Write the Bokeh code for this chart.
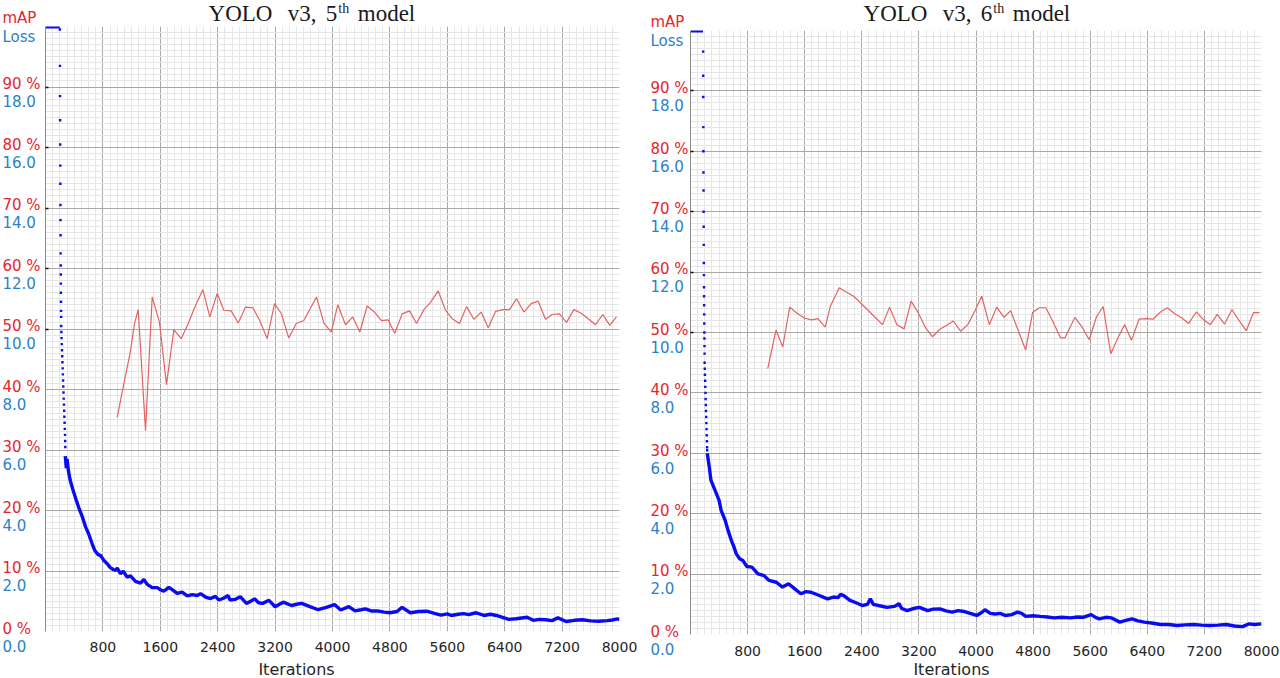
from bokeh.plotting import figure
from bokeh.models import Range1d, FixedTicker
from bokeh.layouts import row, column
from bokeh.core.properties import value
from bokeh.embed import file_html
from bokeh.resources import INLINE

# ---------------- texts / ticks ----------------
X_TICKS = [800, 1600, 2400, 3200, 4000, 4800, 5600, 6400, 7200, 8000]
X_TICK_LABELS = ["800", "1600", "2400", "3200", "4000", "4800", "5600", "6400", "7200", "8000"]
MAP_TICKS = [0, 10, 20, 30, 40, 50, 60, 70, 80, 90]
MAP_TICK_LABELS = ["0 %", "10 %", "20 %", "30 %", "40 %", "50 %", "60 %", "70 %", "80 %", "90 %"]
LOSS_TICKS = [0, 2, 4, 6, 8, 10, 12, 14, 16, 18]
LOSS_TICK_LABELS = ["0.0", "2.0", "4.0", "6.0", "8.0", "10.0", "12.0", "14.0", "16.0", "18.0"]
MARK_TICKS = [50, 60, 70, 80, 90]
TITLE_WORDS = ["YOLO", "v3,"]
MODEL_NUMBERS = ["5", "6"]
TITLE_SUP = "th"
TITLE_TAIL = "model"
X_NAME = "Iterations"
MAP_NAME = "mAP"
LOSS_NAME = "Loss"

# ---------------- 5th model ----------------
m5_map_iter = [999, 1091, 1185, 1240, 1292, 1394, 1487, 1589, 1686, 1789,
               1891, 1989, 2091, 2193, 2290, 2393, 2485, 2588, 2686, 2787,
               2890, 2983, 3090, 3192, 3285, 3391, 3494, 3600, 3777, 3879,
               3982, 4074, 4181, 4283, 4381, 4483, 4576, 4683, 4776, 4868,
               4971, 5073, 5171, 5273, 5366, 5473, 5575, 5668, 5770, 5868,
               5970, 6072, 6170, 6272, 6374, 6467, 6564, 6667, 6769, 6866,
               6969, 7062, 7164, 7262, 7363, 7465, 7564, 7665, 7767, 7865,
               7958]
m5_map = [35.4, 40.9, 46.4, 50.9, 53.2, 33.2, 55.3, 51.1, 40.8, 49.9,
          48.4, 50.9, 53.9, 56.5, 52.0, 55.9, 53.1, 53.0, 51.0, 53.6,
          53.5, 51.5, 48.4, 54.2, 52.6, 48.5, 50.9, 51.4, 55.3, 51.0,
          49.5, 54.0, 50.7, 52.0, 49.5, 53.8, 52.9, 51.4, 51.5, 49.3,
          52.5, 53.0, 50.9, 53.2, 54.4, 56.3, 53.1, 51.7, 50.9, 53.7,
          51.6, 52.8, 50.2, 52.9, 53.2, 53.2, 55.0, 52.8, 54.2, 54.6,
          51.6, 52.4, 52.5, 51.1, 53.2, 52.6, 51.7, 50.7, 52.4, 50.6,
          52.0]
m5_cap_iter = [0, 200]
m5_cap_loss = [20.0, 20.0]
m5_dot_iter = [201, 202, 203, 204, 205, 206, 207, 208, 209, 210,
               211, 212, 213, 214, 215, 216, 217, 218, 219,
               221, 224, 227, 230, 233, 236, 239, 242, 245, 248,
               251, 254, 257, 260, 263, 266, 269, 272, 274, 276]
m5_dot_loss = [19.9, 18.7, 17.7, 16.9, 16.1, 15.4, 14.8, 14.1, 13.6, 13.1,
               12.5, 12.1, 11.8, 11.5, 11.2, 10.9, 10.6, 10.4, 10.1,
               9.9, 9.7, 9.5, 9.3, 9.1, 8.9, 8.7, 8.5, 8.3, 8.1,
               7.9, 7.7, 7.5, 7.3, 7.1, 6.9, 6.7, 6.5, 6.3, 6.1]
m5_loss_iter = [276, 290, 300, 320, 344, 380, 429, 470, 515, 560,
                601, 650, 687, 730, 772, 813, 858, 900, 944, 980,
                1000, 1045, 1083, 1138, 1185, 1254, 1324, 1370, 1417, 1487,
                1556, 1603, 1649, 1719, 1780, 1835, 1905, 1975, 2045, 2114,
                2160, 2230, 2300, 2369, 2416, 2480, 2543, 2572, 2640, 2714,
                2800, 2860, 2914, 2970, 3028, 3114, 3200, 3260, 3314, 3428,
                3500, 3571, 3686, 3800, 3914, 4028, 4114, 4228, 4314, 4400,
                4457, 4540, 4628, 4720, 4799, 4900, 4970, 5084, 5200, 5313,
                5420, 5513, 5600, 5656, 5750, 5827, 5900, 5998, 6113, 6200,
                6284, 6370, 6456, 6560, 6712, 6798, 6880, 6970, 7060, 7141,
                7256, 7370, 7484, 7600, 7713, 7827, 7900, 7969, 8000]
m5_loss = [5.8, 5.4, 5.7, 5.3, 5.0, 4.7, 4.34, 4.05, 3.78, 3.45,
           3.23, 2.9, 2.68, 2.55, 2.5, 2.35, 2.25, 2.12, 2.05, 2.02,
           2.1, 1.91, 1.99, 1.80, 1.84, 1.66, 1.60, 1.72, 1.56, 1.45,
           1.45, 1.38, 1.33, 1.46, 1.36, 1.26, 1.30, 1.18, 1.22, 1.19,
           1.25, 1.14, 1.09, 1.16, 1.04, 1.10, 1.19, 1.04, 1.06, 1.15,
           0.93, 1.00, 1.08, 0.95, 0.93, 1.03, 0.82, 0.90, 0.97, 0.86,
           0.90, 0.93, 0.82, 0.72, 0.80, 0.89, 0.71, 0.82, 0.68, 0.72,
           0.75, 0.68, 0.68, 0.64, 0.62, 0.66, 0.80, 0.62, 0.66, 0.67,
           0.60, 0.54, 0.58, 0.53, 0.57, 0.59, 0.56, 0.62, 0.53, 0.57,
           0.53, 0.47, 0.40, 0.42, 0.47, 0.37, 0.40, 0.39, 0.36, 0.45,
           0.33, 0.37, 0.39, 0.35, 0.34, 0.36, 0.38, 0.42, 0.40]

# ---------------- 6th model ----------------
m6_map_iter = [1082, 1198, 1292, 1390, 1492, 1594, 1692, 1786, 1888, 1958,
               2084, 2182, 2285, 2392, 2495, 2597, 2691, 2789, 2891, 2993,
               3091, 3194, 3287, 3390, 3488, 3590, 3684, 3786, 3884, 3986,
               4080, 4187, 4290, 4392, 4485, 4593, 4695, 4793, 4887, 4979,
               5082, 5185, 5245, 5385, 5492, 5586, 5688, 5782, 5888, 5992,
               6084, 6178, 6285, 6387, 6481, 6584, 6681, 6784, 6886, 6979,
               7087, 7180, 7283, 7380, 7483, 7586, 7684, 7786, 7888, 7972]
m6_map = [44.0, 50.4, 47.6, 54.2, 53.2, 52.4, 52.1, 52.3, 50.9, 54.3,
          57.4, 56.7, 56.0, 54.8, 53.6, 52.4, 51.3, 54.2, 51.3, 50.6,
          55.2, 53.2, 50.9, 49.3, 50.5, 51.2, 51.9, 50.2, 51.3, 53.6,
          56.0, 51.3, 54.2, 52.5, 53.6, 50.3, 47.1, 53.3, 54.1, 54.1,
          51.7, 49.1, 49.1, 52.5, 50.8, 48.8, 52.6, 54.3, 46.5, 49.2,
          51.3, 48.7, 52.2, 52.3, 52.2, 53.4, 54.1, 53.1, 52.4, 51.5,
          53.4, 52.2, 51.3, 53.0, 51.4, 53.8, 52.0, 50.3, 53.3, 53.3]
m6_cap_iter = [0, 176]
m6_cap_loss = [20.0, 20.0]
m6_dot_iter = [177, 178, 179, 180, 181, 182, 183, 184, 185, 186, 187,
               188, 189, 190, 191, 192, 193, 194, 195, 196, 197, 198,
               200, 202, 205, 207, 210, 212, 215, 217, 220, 222, 225,
               227, 230, 232, 234]
m6_dot_loss = [19.3, 18.5, 17.8, 16.8, 16.0, 15.3, 14.7, 14.0, 13.5, 12.9, 12.3,
               11.9, 11.5, 11.2, 10.9, 10.6, 10.3, 10.0, 9.8, 9.55, 9.3, 9.0,
               8.8, 8.6, 8.4, 8.2, 8.0, 7.8, 7.6, 7.4, 7.2, 7.0, 6.8,
               6.6, 6.4, 6.2, 6.1]
m6_loss_iter = [235, 260, 287, 344, 401, 429, 487, 527, 573, 601,
                642, 688, 733, 790, 860, 945, 1031, 1100, 1202, 1289,
                1374, 1461, 1546, 1620, 1690, 1805, 1919, 2005, 2070, 2100,
                2148, 2234, 2320, 2406, 2480, 2520, 2560, 2635, 2749, 2860,
                2921, 2960, 3036, 3120, 3208, 3323, 3400, 3495, 3580, 3666,
                3750, 3838, 3920, 4010, 4080, 4125, 4200, 4268, 4340, 4411,
                4500, 4582, 4640, 4697, 4800, 4898, 5000, 5098, 5200, 5327,
                5420, 5499, 5614, 5680, 5728, 5820, 5900, 6015, 6100, 6187,
                6270, 6358, 6460, 6588, 6700, 6817, 6930, 7046, 7160, 7276,
                7390, 7506, 7620, 7735, 7820, 7900, 8000]
m6_loss = [6.0, 5.6, 5.1, 4.77, 4.44, 4.11, 3.77, 3.44, 3.11, 2.95,
           2.67, 2.51, 2.45, 2.25, 2.23, 2.01, 1.95, 1.79, 1.73, 1.57,
           1.68, 1.51, 1.35, 1.42, 1.40, 1.29, 1.18, 1.24, 1.22, 1.33,
           1.29, 1.13, 1.05, 0.96, 1.00, 1.18, 1.00, 0.96, 0.90, 0.93,
           1.02, 0.86, 0.79, 0.86, 0.90, 0.79, 0.84, 0.85, 0.78, 0.74,
           0.79, 0.76, 0.70, 0.63, 0.73, 0.82, 0.70, 0.68, 0.70, 0.63,
           0.66, 0.74, 0.70, 0.60, 0.62, 0.60, 0.58, 0.55, 0.57, 0.55,
           0.58, 0.57, 0.66, 0.56, 0.52, 0.57, 0.55, 0.41, 0.47, 0.52,
           0.45, 0.41, 0.38, 0.33, 0.33, 0.30, 0.32, 0.33, 0.31, 0.30,
           0.31, 0.33, 0.28, 0.26, 0.35, 0.33, 0.35]

# ---------------- styling / layout ----------------
RED = "#e5262d"
BLUE_TXT = "#2a82c8"
LOSS_COLOR = "#0b0bf2"
MAP_COLOR = "#e06464"
MAJOR = "#a8a8a8"
MINOR = "#e6e6e6"
TXT = "#262626"
SANS = "DejaVu Sans"
SERIF = "Liberation Serif"
BOTTOM_H = 19

GEOM = [
    dict(x0=0, lw=45, fw=574, fh=605, top=26, br=29, bb=28, xs=4,
         title_cx=[240, 301.7, 331, 343.3, 386], title_y=13.3, sup_y=17.7, map_y=8.9,
         iter_cx=296, iter_y=9.5),
    dict(x0=648, lw=42, fw=571, fh=604, top=30, br=19, bb=25, xs=5,
         title_cx=[895, 956.7, 986, 998.3, 1041], title_y=17.3, sup_y=21.7, map_y=8.9,
         iter_cx=951, iter_y=9.5),
]


def blank(width, height, x_range, y_range):
    f = figure(frame_width=width, frame_height=height, min_border=0,
               min_border_left=0, min_border_right=0, min_border_top=0, min_border_bottom=0,
               x_range=x_range, y_range=y_range,
               x_axis_type=None, y_axis_type=None, output_backend="svg",
               toolbar_location=None, title_location=None)
    f.outline_line_color = None
    f.background_fill_color = "white"
    f.border_fill_color = "white"
    f.grid.visible = False
    return f


def top_strip(num, g):
    w = g["lw"] + g["fw"] + g["br"]
    h = g["top"]
    f = blank(w, h, Range1d(0, w), Range1d(0, h))
    cx = [c - g["x0"] for c in g["title_cx"]]
    words = [TITLE_WORDS[0], TITLE_WORDS[1], num, TITLE_TAIL]
    f.text(x=[cx[0], cx[1], cx[2], cx[4]], y=[g["title_y"]] * 4, text=words,
           text_align="center", text_baseline="middle", text_font=value(SERIF),
           text_font_size="23px", text_color="#1a1a1a")
    f.text(x=[cx[3]], y=[g["sup_y"]], text=[TITLE_SUP], text_align="center",
           text_baseline="middle", text_font=value(SERIF), text_font_size="14px",
           text_color="#1a1a1a")
    f.text(x=[2], y=[g["map_y"]], text=[MAP_NAME], text_align="left", text_baseline="middle",
           text_font=value(SANS), text_font_size="15px", text_color=RED)
    return f


def bottom_strip(g):
    w = g["lw"] + g["fw"] + g["br"]
    f = blank(w, BOTTOM_H, Range1d(0, w), Range1d(0, BOTTOM_H))
    f.text(x=[g["iter_cx"] - g["x0"]], y=[g["iter_y"]], text=[X_NAME], text_align="center",
           text_baseline="middle", text_font=value(SANS), text_font_size="16px",
           text_color=TXT)
    return f


def label_column(g):
    k = g["fh"] / 100.0
    lo = -g["bb"] / k
    f = blank(g["lw"], g["fh"] + g["bb"], Range1d(0, g["lw"]), Range1d(lo, 100))
    f.extra_y_ranges = {"loss": Range1d(lo / 5.0, 20)}
    n = len(MAP_TICKS)
    f.text(x=[2] * n, y=MAP_TICKS, text=MAP_TICK_LABELS, text_align="left",
           text_baseline="middle", y_offset=-2.7, text_font=value(SANS),
           text_font_size="15px", text_color=RED)
    f.text(x=[2] * n, y=LOSS_TICKS, text=LOSS_TICK_LABELS, y_range_name="loss",
           text_align="left", text_baseline="middle", y_offset=14.3,
           text_font=value(SANS), text_font_size="15px", text_color=BLUE_TXT)
    f.text(x=[2], y=[100], text=[LOSS_NAME], text_align="left", text_baseline="middle",
           y_offset=10.3, text_font=value(SANS), text_font_size="15px", text_color=BLUE_TXT)
    return f


def panel(g, map_it, map_v, loss_it, loss_v, dot_it, dot_v, cap_it, cap_v):
    p = figure(frame_width=g["fw"], frame_height=g["fh"],
               min_border_left=0, min_border_right=g["br"],
               min_border_top=0, min_border_bottom=g["bb"],
               x_range=Range1d(0, 8000), y_range=Range1d(0, 100),
               output_backend="svg", toolbar_location=None, title_location=None)
    p.extra_y_ranges = {"loss": Range1d(0, 20)}
    p.outline_line_color = None
    p.background_fill_color = "white"
    p.border_fill_color = "white"

    # grid
    p.xgrid.ticker = FixedTicker(ticks=[0] + X_TICKS, minor_ticks=list(range(0, 8001, 100)))
    p.ygrid.ticker = FixedTicker(ticks=MAP_TICKS, minor_ticks=list(range(0, 101)))
    for gr in (p.xgrid, p.ygrid):
        gr.grid_line_color = MAJOR
        gr.grid_line_width = 1
        gr.minor_grid_line_color = MINOR
        gr.minor_grid_line_width = 1

    # y axis: left edge line and the small marks only
    p.yaxis.ticker = FixedTicker(ticks=MARK_TICKS)
    p.yaxis.major_label_overrides = {t: "" for t in MARK_TICKS}
    p.yaxis.major_label_text_font_size = "0px"
    p.yaxis.major_label_standoff = 0
    p.yaxis.axis_line_color = "#8c8c8c"
    p.yaxis.major_tick_in = 3
    p.yaxis.major_tick_out = 0
    p.yaxis.major_tick_line_color = "#111111"
    p.yaxis.major_tick_line_width = 1.5
    p.yaxis.minor_tick_line_color = None

    # x axis
    p.xaxis.ticker = FixedTicker(ticks=X_TICKS)
    p.xaxis.major_label_overrides = dict(zip(X_TICKS, X_TICK_LABELS))
    p.xaxis.axis_line_color = None
    p.xaxis.major_tick_line_color = None
    p.xaxis.minor_tick_line_color = None
    p.xaxis.major_label_standoff = g["xs"]
    p.xaxis.major_label_text_font = SANS
    p.xaxis.major_label_text_font_size = "14px"
    p.xaxis.major_label_text_color = TXT

    # series
    p.line(map_it, map_v, line_color=MAP_COLOR, line_width=1.2)
    p.line(cap_it, cap_v, y_range_name="loss", line_color=LOSS_COLOR, line_width=4)
    p.scatter(dot_it, dot_v, y_range_name="loss", marker="square", size=2.4,
              fill_color=LOSS_COLOR, line_color=None)
    p.line(loss_it, loss_v, y_range_name="loss", line_color=LOSS_COLOR, line_width=3.4)
    return p


def whole(num, g, *series):
    return column(top_strip(num, g),
                  row(label_column(g), panel(g, *series)),
                  bottom_strip(g))


left = whole(MODEL_NUMBERS[0], GEOM[0], m5_map_iter, m5_map, m5_loss_iter, m5_loss,
             m5_dot_iter, m5_dot_loss, m5_cap_iter, m5_cap_loss)
right = whole(MODEL_NUMBERS[1], GEOM[1], m6_map_iter, m6_map, m6_loss_iter, m6_loss,
              m6_dot_iter, m6_dot_loss, m6_cap_iter, m6_cap_loss)

layout = row(left, right)
open("out.html", "w").write(file_html(layout, INLINE))
